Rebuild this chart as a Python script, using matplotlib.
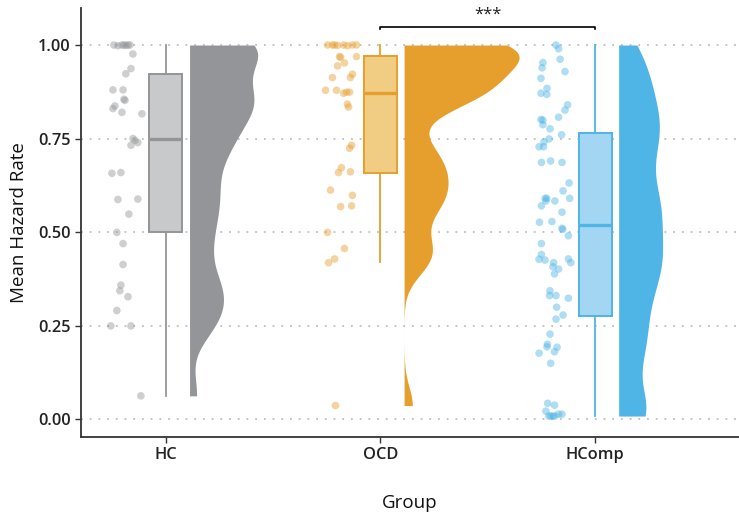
import numpy as np
import matplotlib
matplotlib.use("Agg")
import matplotlib.pyplot as plt

plt.rcParams['font.family'] = ['Open Sans', 'DejaVu Sans']

groups = ["HC", "OCD", "HComp"]
colors = ["#939598", "#E69F2C", "#4FB4E6"]
box_fills = ["#C8C9CB", "#F1CD84", "#A2D6F2"]

# Mean hazard rate per participant
hc_values = [1.000, 0.998, 1.000, 1.000, 0.999, 1.000, 1.000, 0.976, 0.937, 0.923,
             0.880, 0.880, 0.855, 0.852, 0.837, 0.830, 0.820, 0.816, 0.750, 0.745,
             0.732, 0.739, 0.657, 0.659, 0.587, 0.588, 0.548, 0.499, 0.469, 0.413,
             0.358, 0.343, 0.327, 0.290, 0.249, 0.249, 0.062]
ocd_values = [1.000, 1.000, 1.000, 0.999, 1.000, 0.998, 1.000, 1.000, 0.969, 0.967,
              0.969, 0.952, 0.944, 0.922, 0.913, 0.913, 0.879, 0.879, 0.871, 0.874,
              0.874, 0.842, 0.834, 0.732, 0.724, 0.672, 0.659, 0.661, 0.612, 0.598,
              0.568, 0.570, 0.499, 0.456, 0.428, 0.418, 0.036]
hcomp_values = [1.000, 0.990, 0.962, 0.953, 0.939, 0.929, 0.911, 0.884, 0.871, 0.868,
                0.840, 0.826, 0.807, 0.801, 0.799, 0.787, 0.776, 0.760, 0.749, 0.741,
                0.728, 0.728, 0.686, 0.690, 0.686, 0.631, 0.610, 0.590, 0.590, 0.590,
                0.583, 0.583, 0.570, 0.553, 0.526, 0.528, 0.510, 0.507, 0.490, 0.469,
                0.440, 0.427, 0.425, 0.428, 0.418, 0.418, 0.407, 0.401, 0.388, 0.343,
                0.330, 0.330, 0.323, 0.299, 0.278, 0.267, 0.227, 0.200, 0.193, 0.192,
                0.176, 0.180, 0.149, 0.042, 0.037, 0.021, 0.008, 0.008, 0.008, 0.008,
                0.013, 0.013]

# Horizontal jitter of the raw points (offset from the group centre, x units)
hc_jitter = [-0.243, -0.224, -0.205, -0.196, -0.187, -0.177, -0.168, -0.154, -0.163, -0.187,
             -0.247, -0.200, -0.196, -0.191, -0.238, -0.247, -0.205, -0.112, -0.154, -0.144,
             -0.163, -0.131, -0.252, -0.210, -0.224, -0.131, -0.173, -0.229, -0.200, -0.200,
             -0.210, -0.215, -0.177, -0.229, -0.257, -0.163, -0.117]
ocd_jitter = [-0.247, -0.224, -0.214, -0.200, -0.172, -0.154, -0.131, -0.112, -0.191, -0.186,
              -0.112, -0.168, -0.200, -0.131, -0.140, -0.224, -0.256, -0.205, -0.172, -0.158,
              -0.144, -0.154, -0.149, -0.135, -0.144, -0.182, -0.196, -0.140, -0.233, -0.131,
              -0.186, -0.135, -0.247, -0.168, -0.214, -0.242, -0.210]
hcomp_jitter = [-0.182, -0.170, -0.163, -0.243, -0.247, -0.140, -0.252, -0.224, -0.252, -0.225,
                -0.128, -0.140, -0.170, -0.252, -0.243, -0.243, -0.210, -0.156, -0.214, -0.238,
                -0.261, -0.240, -0.250, -0.207, -0.154, -0.121, -0.149, -0.233, -0.225, -0.118,
                -0.187, -0.229, -0.250, -0.154, -0.259, -0.201, -0.154, -0.151, -0.124, -0.250,
                -0.250, -0.261, -0.233, -0.124, -0.113, -0.193, -0.196, -0.170, -0.189, -0.210,
                -0.212, -0.182, -0.124, -0.179, -0.149, -0.182, -0.210, -0.222, -0.224, -0.177,
                -0.261, -0.189, -0.207, -0.221, -0.189, -0.229, -0.216, -0.207, -0.196, -0.187,
                -0.170, -0.154]

# Box-plot summaries per group
box_q1 = [0.500, 0.659, 0.276]
box_median = [0.750, 0.871, 0.520]
box_q3 = [0.922, 0.971, 0.764]
whisker_low = [0.062, 0.421, 0.008]
whisker_high = [1.000, 1.000, 1.000]

# density smoothing (multiplier on Silverman's bandwidth)
bw_adjust = [0.5, 0.5, 0.65]

all_values = [hc_values, ocd_values, hcomp_values]
all_jitter = [hc_jitter, ocd_jitter, hcomp_jitter]
positions = np.arange(1, len(groups) + 1)


def kde(values, grid, adjust):
    v = np.asarray(values)
    sd = v.std(ddof=1)
    iqr = np.subtract(*np.percentile(v, [75, 25]))
    bw = 0.9 * min(sd, iqr / 1.34) * len(v) ** -0.2 * adjust
    z = (grid[:, None] - v[None, :]) / bw
    return np.exp(-0.5 * z ** 2).sum(axis=1) / (len(v) * bw * np.sqrt(2 * np.pi))


fig = plt.figure(figsize=(7.39, 5.18), dpi=100)
ax = fig.add_axes([0.1096, 0.1564, 0.8904, 0.8282])

# dotted horizontal grid
for yv in [0, 0.25, 0.5, 0.75, 1.0]:
    ax.axhline(yv, color="#B4B4B4", lw=1.1, ls=(0, (1.2, 4.5)), zorder=0)

# half violins (trimmed, common area scaling)
grids, dens = [], []
for vals, adj in zip(all_values, bw_adjust):
    g = np.linspace(min(vals), max(vals), 400)
    grids.append(g)
    dens.append(kde(vals, g, adj))
dmax = max(d.max() for d in dens)
violin_offset = 0.11
violin_width = 0.536
for pos, g, d, col in zip(positions, grids, dens, colors):
    x0 = pos + violin_offset
    ax.fill_betweenx(g, x0, x0 + d / dmax * violin_width, color=col, lw=0, zorder=2)

# box plots
for i, (pos, col, fc) in enumerate(zip(positions, colors, box_fills)):
    stats = [dict(q1=box_q1[i], med=box_median[i], q3=box_q3[i],
                  whislo=whisker_low[i], whishi=whisker_high[i], fliers=[])]
    bp = ax.bxp(stats, positions=[pos], widths=0.154, patch_artist=True,
                showfliers=False, showcaps=False, manage_ticks=False,
                boxprops=dict(facecolor=fc, edgecolor=col, linewidth=1.4),
                medianprops=dict(color=col, linewidth=2.4),
                whiskerprops=dict(color=col, linewidth=1.3))
    for art in bp["boxes"] + bp["medians"] + bp["whiskers"]:
        art.set_zorder(3)

# raw points
for pos, vals, jit, col in zip(positions, all_values, all_jitter, colors):
    ax.scatter(pos + np.asarray(jit), vals, s=30, color=col, alpha=0.45,
               edgecolors="none", zorder=4)

# significance bracket between OCD and HComp
y_br = 1.048
ax.plot([2, 2, 3, 3], [y_br - 0.006, y_br, y_br, y_br - 0.006], color="black",
        lw=1.2, clip_on=False, zorder=5)
ax.text(2.5, y_br + 0.012, "***", ha="center", va="bottom", fontsize=12, color="#222222")

ax.set_xlim(0.604, 3.671)
ax.set_ylim(-0.048, 1.099)
ax.set_xticks(positions)
ax.set_xticklabels(groups)
ax.set_yticks([0, 0.25, 0.5, 0.75, 1.0])
ax.set_yticklabels(["0.00", "0.25", "0.50", "0.75", "1.00"])
ax.tick_params(axis="both", labelsize=11.8, colors="#333333", length=4, width=1.0,
               labelcolor="#222222")
for lab in ax.get_xticklabels() + ax.get_yticklabels():
    lab.set_fontweight("semibold")

for side in ["top", "right"]:
    ax.spines[side].set_visible(False)
for side in ["left", "bottom"]:
    ax.spines[side].set_color("#333333")
    ax.spines[side].set_linewidth(1.3)

ax.set_xlabel("Group", fontsize=13.5, labelpad=22, color="#111111")
ax.set_ylabel("Mean Hazard Rate", fontsize=13.5, labelpad=7, color="#111111")

fig.savefig("out.png", dpi=100)
